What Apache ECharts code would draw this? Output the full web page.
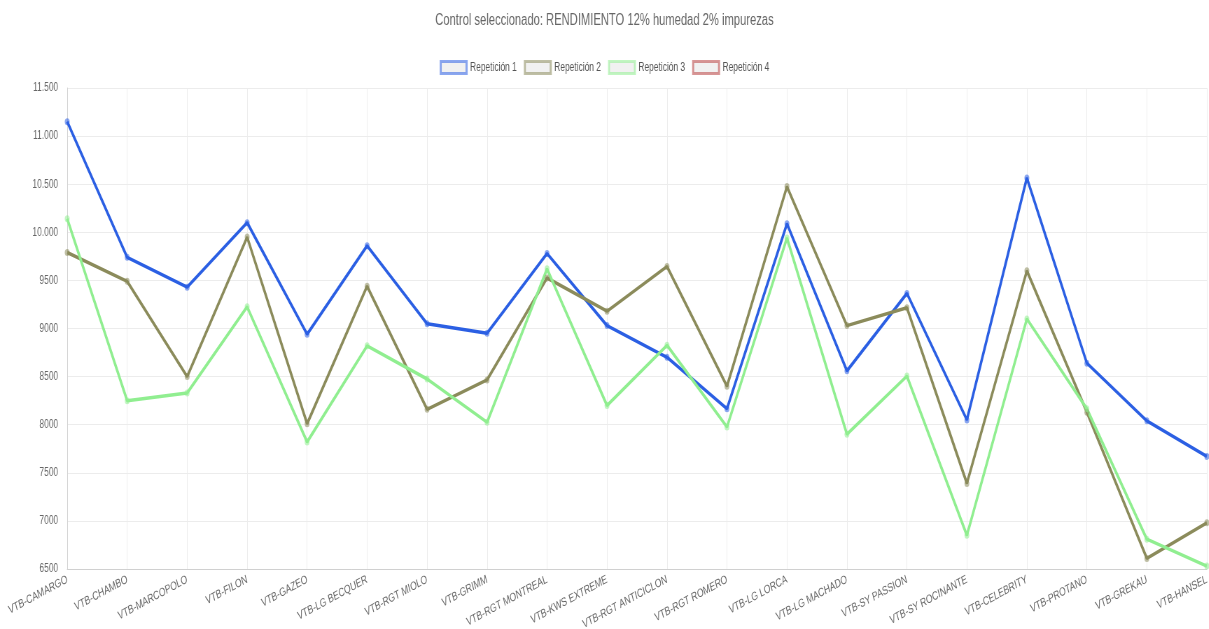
<!DOCTYPE html>
<html>
<head>
<meta charset="utf-8">
<script src="https://cdn.jsdelivr.net/npm/echarts@6/dist/echarts.min.js"></script>
<style>
    html, body { margin: 0; padding: 0; background: #fff; overflow: hidden; }
    /* el original esta comprimido en horizontal (~0.7) */
    #chart { width: 1727px; height: 629px; transform: scaleX(0.7); transform-origin: 0 0; }
</style>
</head>
<body>
<div id="chart"></div>
<script>
    // variedades (eje x)
    var categorias = ['VTB-CAMARGO', 'VTB-CHAMBO', 'VTB-MARCOPOLO', 'VTB-FILON', 'VTB-GAZEO', 'VTB-LG BECQUER',
        'VTB-RGT MIOLO', 'VTB-GRIMM', 'VTB-RGT MONTREAL', 'VTB-KWS EXTREME', 'VTB-RGT ANTICICLON', 'VTB-RGT ROMERO',
        'VTB-LG LORCA', 'VTB-LG MACHADO', 'VTB-SY PASSION', 'VTB-SY ROCINANTE', 'VTB-CELEBRITY', 'VTB-PROTANO',
        'VTB-GREKAU', 'VTB-HANSEL'];

    var repeticion1 = [11150, 9740, 9430, 10100, 8940, 9860, 9050, 8950, 9780, 9030, 8700, 8165, 10090, 8560, 9365, 8050, 10565, 8640, 8040, 7670];
    var repeticion2 = [9790, 9490, 8500, 9950, 8010, 9440, 8160, 8465, 9525, 9180, 9645, 8400, 10475, 9030, 9215, 7390, 9600, 8130, 6610, 6980];
    var repeticion3 = [10140, 8250, 8330, 9225, 7820, 8820, 8475, 8025, 9620, 8200, 8825, 7975, 9940, 7900, 8505, 6850, 9100, 8165, 6810, 6530];
    var repeticion4 = [];

    var nombres = ['Repetición 1', 'Repetición 2', 'Repetición 3', 'Repetición 4'];
    var colores = ['#2b5fe3', '#8b8b5b', '#90ee90', '#b84040'];
    var datos = [repeticion1, repeticion2, repeticion3, repeticion4];

    var fuente = '"Liberation Sans", Arial, sans-serif';

    // formato es-ES: punto de miles solo desde 10.000
    var formatoY = function (v) {
        if (v >= 10000) {
            var s = String(v);
            return s.slice(0, s.length - 3) + '.' + s.slice(s.length - 3);
        }
        return String(v);
    };

    var series = [];
    for (var i = 0; i < datos.length; i++) {
        series.push({
            name: nombres[i],
            type: 'line',
            data: datos[i],
            symbol: 'circle',
            symbolSize: 7,
            lineStyle: { width: 3.5, color: colores[i] },
            itemStyle: { color: colores[i], opacity: 0.55 },
            emphasis: { disabled: true }
        });
    }

    var chart = echarts.init(document.getElementById('chart'));
    chart.setOption({
        animation: false,
        textStyle: { fontFamily: fuente },
        title: {
            text: 'Control seleccionado: RENDIMIENTO 12% humedad 2% impurezas',
            left: 'center',
            top: 8,
            textStyle: { fontFamily: fuente, fontSize: 16, fontWeight: 'normal', color: '#666' }
        },
        legend: {
            top: 55,
            left: 'center',
            icon: 'rect',
            itemWidth: 37,
            itemHeight: 12,
            itemGap: 10,
            textStyle: { fontFamily: fuente, fontSize: 12, color: '#555' },
            data: nombres.map(function (n, i) {
                return {
                    name: n,
                    itemStyle: { color: '#e6e6e6', borderColor: colores[i], borderWidth: 3 }
                };
            })
        },
        grid: {
            left: 96,
            right: 3,
            top: 88,
            bottom: 60,
            outerBoundsMode: 'none'
        },
        xAxis: {
            type: 'category',
            data: categorias,
            boundaryGap: false,
            axisLine: { lineStyle: { color: '#d0d0d0' } },
            axisTick: { show: false },
            axisLabel: { rotate: 21, interval: 0, fontSize: 12, color: '#666', fontFamily: fuente, margin: 10 },
            splitLine: { show: true, lineStyle: { color: '#ececec' } }
        },
        yAxis: {
            type: 'value',
            min: 6500,
            max: 11500,
            interval: 500,
            axisLine: { show: true, lineStyle: { color: '#d0d0d0' } },
            axisTick: { show: false },
            axisLabel: { fontSize: 12, color: '#666', fontFamily: fuente, margin: 13, formatter: formatoY },
            splitLine: { lineStyle: { color: '#ececec' } }
        },
        series: series
    });
</script>
</body>
</html>
